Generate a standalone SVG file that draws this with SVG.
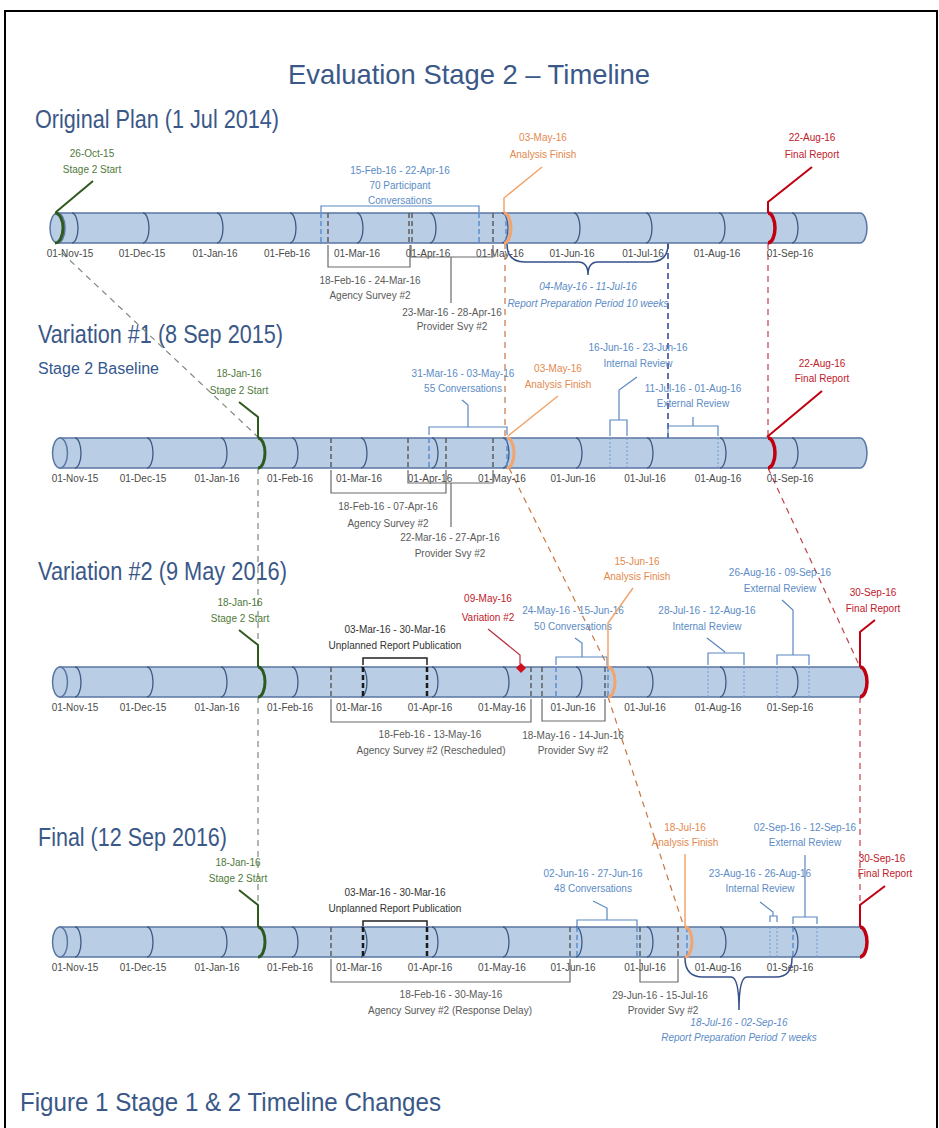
<svg xmlns="http://www.w3.org/2000/svg" width="939" height="1128" viewBox="0 0 939 1128">
<style>
  .t{font-family:"Liberation Sans",Arial,sans-serif;font-size:10px;text-anchor:middle}
  .h{font-family:"Liberation Sans Narrow","Liberation Sans",Arial,sans-serif;fill:#3a5888}
  .lbl{fill:#4a4a4a}
  .grey{fill:#5a5a5a}
  .blue{fill:#5b8bc6}
  .green{fill:#4f7a3a}
  .orange{fill:#e3894d}
  .red{fill:#c0202a}
  .blk{fill:#333}
  .ital{font-style:italic;fill:#5b8bc6}
  .bar{fill:#b9cde5;stroke:#5a76a2;stroke-width:1.5}
  .arc{fill:none;stroke:#3f5a85;stroke-width:1.3}
  .gd{stroke:#5e5e5e;stroke-width:1.5;stroke-dasharray:5 3;fill:none}
  .bd{stroke:#5b8fd0;stroke-width:1.5;stroke-dasharray:5 3;fill:none}
  .bt{stroke:#6f9bd0;stroke-width:1;stroke-dasharray:2 2;fill:none}
  .kd{stroke:#1a1a1a;stroke-width:2.5;stroke-dasharray:5 3;fill:none}
  .nd{stroke:#2a3f9e;stroke-width:1.5;stroke-dasharray:6 4;fill:none}
  .gb{stroke:#6a6a6a;stroke-width:1.2;fill:none}
  .bb{stroke:#5a87c0;stroke-width:1.2;fill:none}
  .kb{stroke:#222;stroke-width:1.5;fill:none}
  .brace{stroke:#34508a;stroke-width:1.5;fill:none}
  .gm{stroke:#2f5a1f;stroke-width:3;fill:none}
  .gl{stroke:#2f5a1f;stroke-width:2;fill:none}
  .om{stroke:#f2a46c;stroke-width:3;fill:none}
  .ol{stroke:#f2a46c;stroke-width:1.5;fill:none}
  .rm{stroke:#c00010;stroke-width:3.5;fill:none}
  .rl{stroke:#c00010;stroke-width:2;fill:none}
  .cg{stroke:#7d8a78;stroke-width:1.2;stroke-dasharray:6 5;fill:none}
  .co{stroke:#c9763e;stroke-width:1.2;stroke-dasharray:6 5;fill:none}
  .cr{stroke:#c0404a;stroke-width:1.2;stroke-dasharray:6 5;fill:none}
</style>

<rect width="939" height="1128" fill="#fff"/>
<rect x="5" y="11" width="932" height="1130" fill="none" stroke="#000" stroke-width="2"/>

<text class="h" x="288" y="84" font-size="28" textLength="362" lengthAdjust="spacingAndGlyphs" fill="#2c4a7e">Evaluation Stage 2 – Timeline</text>
<text class="h" x="35" y="128" font-size="25" textLength="244" lengthAdjust="spacingAndGlyphs">Original Plan (1 Jul 2014)</text>
<text class="h" x="38" y="343" font-size="26" textLength="245" lengthAdjust="spacingAndGlyphs">Variation #1 (8 Sep 2015)</text>
<text x="38" y="374" font-family="'Liberation Sans',Arial,sans-serif" font-size="16" fill="#35578f">Stage 2 Baseline</text>
<text class="h" x="38" y="580" font-size="26" textLength="249" lengthAdjust="spacingAndGlyphs">Variation #2 (9 May 2016)</text>
<text class="h" x="38" y="846" font-size="26" textLength="189" lengthAdjust="spacingAndGlyphs">Final (12 Sep 2016)</text>

<!-- connectors between rows -->
<g id="connectors">
  <path class="cg" d="M62,253 L258,437"/>
  <path class="cg" d="M258,468 V667 M258,697 V927"/>
  <path class="co" d="M505,243 V438"/>
  <path class="co" d="M509,468 L608,667 M608,697 L684,927"/>
  <path class="cr" d="M768,243 V438"/>
  <path class="cr" d="M768,468 L860,667 M860,697 V927"/>
  <path class="nd" d="M668,213 V468"/>
</g>

<!-- ===== Original Plan ===== -->
<g id="row1">
  <g id="row1-bar">
    <path class="bar" d="M57.5,213 H860 a7,15 0 0 1 0,30 H57.5 Z"/>
    <ellipse class="bar" cx="57.5" cy="228" rx="7.5" ry="15"/>
    <path class="arc" d="M72,213a6,15 0 0 1 0,30 M143,213a6,15 0 0 1 0,30 M217,213a6,15 0 0 1 0,30 M290,213a6,15 0 0 1 0,30 M357,213a6,15 0 0 1 0,30 M430,213a6,15 0 0 1 0,30 M502,213a6,15 0 0 1 0,30 M574,213a6,15 0 0 1 0,30 M646,213a6,15 0 0 1 0,30 M719,213a6,15 0 0 1 0,30 M792,213a6,15 0 0 1 0,30"/>
    <g class="t lbl">
      <text x="70" y="257">01-Nov-15</text><text x="142" y="257">01-Dec-15</text><text x="215" y="257">01-Jan-16</text>
      <text x="287" y="257">01-Feb-16</text><text x="357" y="257">01-Mar-16</text><text x="428" y="257">01-Apr-16</text>
      <text x="500" y="257">01-May-16</text><text x="572" y="257">01-Jun-16</text><text x="643" y="257">01-Jul-16</text>
      <text x="717" y="257">01-Aug-16</text><text x="790" y="257">01-Sep-16</text>
    </g>
  </g>
  <g id="row1-start">
    <path class="gl" d="M93,181 L56,212"/>
    <path class="gm" d="M55,213 a8,15 0 0 1 0,30"/>
    <text class="t green" x="92" y="157">26-Oct-15</text>
    <text class="t green" x="92" y="173">Stage 2 Start</text>
  </g>
  <g id="row1-conversations">
    <path class="bd" d="M321,213 V243 M479,213 V243"/>
    <path class="bb" d="M321,212 V206 H479 V212"/>
    <text class="t blue" x="400" y="174">15-Feb-16 - 22-Apr-16</text>
    <text class="t blue" x="400" y="189">70 Participant</text>
    <text class="t blue" x="400" y="204">Conversations</text>
  </g>
  <g id="row1-agency">
    <path class="gd" d="M328,213 V243 M409,213 V243"/>
    <path class="gb" d="M328,245 V267 H410 V245"/>
    <text class="t grey" x="370" y="284">18-Feb-16 - 24-Mar-16</text>
    <text class="t grey" x="370" y="299">Agency Survey #2</text>
  </g>
  <g id="row1-provider">
    <path class="gd" d="M412,213 V243 M493,213 V243"/>
    <path class="gb" d="M411,245 V257 H493 V245 M451,257 V303"/>
    <text class="t grey" x="452" y="316">23-Mar-16 - 28-Apr-16</text>
    <text class="t grey" x="452" y="330">Provider Svy #2</text>
  </g>
  <g id="row1-analysis">
    <path class="bd" d="M506,213 V243"/>
    <path class="ol" d="M542,167 L504,198 V213"/>
    <path class="om" d="M504,213 a7,15 0 0 1 0,30"/>
    <text class="t orange" x="543" y="141">03-May-16</text>
    <text class="t orange" x="543" y="158">Analysis Finish</text>
  </g>
  <g id="row1-report-prep">
    <path class="brace" d="M507,244 Q507,262 525,262 H578 Q588,262 588,275 Q588,262 598,262 H650 Q668,262 668,244"/>
    <text class="t ital" x="588" y="290">04-May-16 - 11-Jul-16</text>
    <text class="t ital" x="588" y="307">Report Preparation Period 10 weeks</text>
  </g>
  <g id="row1-final">
    <path class="rl" d="M812,167 L768,202 V213"/>
    <path class="rm" d="M768,213 a7,15 0 0 1 0,30"/>
    <text class="t red" x="812" y="141">22-Aug-16</text>
    <text class="t red" x="812" y="158">Final Report</text>
  </g>
</g>

<!-- ===== Variation #1 ===== -->
<g id="row2">
  <g id="row2-bar">
    <path class="bar" d="M60,438 H860 a7,15 0 0 1 0,30 H60 Z"/>
    <ellipse class="bar" cx="60" cy="453" rx="7.5" ry="15"/>
    <path class="arc" d="M75,438a6,15 0 0 1 0,30 M147,438a6,15 0 0 1 0,30 M221,438a6,15 0 0 1 0,30 M292,438a6,15 0 0 1 0,30 M361,438a6,15 0 0 1 0,30 M432,438a6,15 0 0 1 0,30 M503,438a6,15 0 0 1 0,30 M576,438a6,15 0 0 1 0,30 M647,438a6,15 0 0 1 0,30 M720,438a6,15 0 0 1 0,30 M792,438a6,15 0 0 1 0,30"/>
    <g class="t lbl">
      <text x="75" y="482">01-Nov-15</text><text x="143" y="482">01-Dec-15</text><text x="217" y="482">01-Jan-16</text>
      <text x="290" y="482">01-Feb-16</text><text x="359" y="482">01-Mar-16</text><text x="430" y="482">01-Apr-16</text>
      <text x="502" y="482">01-May-16</text><text x="573" y="482">01-Jun-16</text><text x="645" y="482">01-Jul-16</text>
      <text x="718" y="482">01-Aug-16</text><text x="790" y="482">01-Sep-16</text>
    </g>
  </g>
  <g id="row2-start">
    <path class="gl" d="M239,402 L258,417 V438"/>
    <path class="gm" d="M258,438 a7,15 0 0 1 0,30"/>
    <text class="t green" x="239" y="377">18-Jan-16</text>
    <text class="t green" x="239" y="394">Stage 2 Start</text>
  </g>
  <g id="row2-agency">
    <path class="gd" d="M331,438 V468 M446,438 V468"/>
    <path class="gb" d="M331,470 V493 H446 V470"/>
    <text class="t grey" x="388" y="510">18-Feb-16 - 07-Apr-16</text>
    <text class="t grey" x="388" y="527">Agency Survey #2</text>
  </g>
  <g id="row2-provider">
    <path class="gd" d="M408,438 V468 M493,438 V468"/>
    <path class="gb" d="M408,470 V483 H493 V470 M451,483 V527"/>
    <text class="t grey" x="450" y="541">22-Mar-16 - 27-Apr-16</text>
    <text class="t grey" x="450" y="557">Provider Svy #2</text>
  </g>
  <g id="row2-conversations">
    <path class="bd" d="M429,438 V468 M507,438 V468"/>
    <path class="bb" d="M462,400 L468,405 V427 M429,435 V427 H507 V435"/>
    <text class="t blue" x="463" y="377">31-Mar-16 - 03-May-16</text>
    <text class="t blue" x="463" y="392">55 Conversations</text>
  </g>
  <g id="row2-analysis">
    <path class="ol" d="M558,396 L508,436"/>
    <path class="om" d="M507,438 a7,15 0 0 1 0,30"/>
    <text class="t orange" x="558" y="372">03-May-16</text>
    <text class="t orange" x="558" y="388">Analysis Finish</text>
  </g>
  <g id="row2-internal">
    <path class="bt" d="M610,438 V468 M627,438 V468"/>
    <path class="bb" d="M637,377 L619,390 V420 M610,436 V420 H627 V436"/>
    <text class="t blue" x="638" y="351">16-Jun-16 - 23-Jun-16</text>
    <text class="t blue" x="638" y="367">Internal Review</text>
  </g>
  <g id="row2-external">
    <path class="bt" d="M718,438 V468"/>
    <path class="bb" d="M693,417 V426 M668,436 V426 H718 V436"/>
    <text class="t blue" x="693" y="392">11-Jul-16 - 01-Aug-16</text>
    <text class="t blue" x="693" y="407">External Review</text>
  </g>
  <g id="row2-final">
    <path class="rl" d="M822,391 L767,437"/>
    <path class="rm" d="M768,438 a7,15 0 0 1 0,30"/>
    <text class="t red" x="822" y="367">22-Aug-16</text>
    <text class="t red" x="822" y="382">Final Report</text>
  </g>
</g>

<!-- ===== Variation #2 ===== -->
<g id="row3">
  <g id="row3-bar">
    <path class="bar" d="M60,667 H860 a7,15 0 0 1 0,30 H60 Z"/>
    <ellipse class="bar" cx="60" cy="682" rx="7.5" ry="15"/>
    <path class="arc" d="M75,667a6,15 0 0 1 0,30 M147,667a6,15 0 0 1 0,30 M221,667a6,15 0 0 1 0,30 M292,667a6,15 0 0 1 0,30 M361,667a6,15 0 0 1 0,30 M432,667a6,15 0 0 1 0,30 M503,667a6,15 0 0 1 0,30 M576,667a6,15 0 0 1 0,30 M647,667a6,15 0 0 1 0,30 M720,667a6,15 0 0 1 0,30 M792,667a6,15 0 0 1 0,30"/>
    <g class="t lbl">
      <text x="75" y="711">01-Nov-15</text><text x="143" y="711">01-Dec-15</text><text x="217" y="711">01-Jan-16</text>
      <text x="290" y="711">01-Feb-16</text><text x="359" y="711">01-Mar-16</text><text x="430" y="711">01-Apr-16</text>
      <text x="502" y="711">01-May-16</text><text x="573" y="711">01-Jun-16</text><text x="645" y="711">01-Jul-16</text>
      <text x="718" y="711">01-Aug-16</text><text x="790" y="711">01-Sep-16</text>
    </g>
  </g>
  <g id="row3-start">
    <path class="gl" d="M239,630 L258,645 V667"/>
    <path class="gm" d="M258,667 a7,15 0 0 1 0,30"/>
    <text class="t green" x="240" y="606">18-Jan-16</text>
    <text class="t green" x="240" y="622">Stage 2 Start</text>
  </g>
  <g id="row3-unplanned">
    <path class="kd" d="M363,667 V697 M427,667 V697"/>
    <path class="kb" d="M363,665 V658 H427 V665"/>
    <text class="t blk" x="395" y="633">03-Mar-16 - 30-Mar-16</text>
    <text class="t blk" x="395" y="649">Unplanned Report Publication</text>
  </g>
  <g id="row3-agency">
    <path class="gd" d="M331,667 V697 M531,667 V697"/>
    <path class="gb" d="M331,699 V722 H531 V699"/>
    <text class="t grey" x="430" y="738">18-Feb-16 - 13-May-16</text>
    <text class="t grey" x="431" y="754">Agency Survey #2 (Rescheduled)</text>
  </g>
  <g id="row3-variation">
    <path stroke="#b83040" stroke-width="1.2" fill="none" d="M488,629 L520,655 V664"/>
    <path fill="#d0101c" d="M521,663 L526,668 L521,673 L516,668 Z"/>
    <text class="t red" x="488" y="602" font-size="11">09-May-16</text>
    <text class="t red" x="488" y="621" font-size="11">Variation #2</text>
  </g>
  <g id="row3-provider">
    <path class="gd" d="M542,667 V697 M605,667 V697"/>
    <path class="gb" d="M542,699 V721 H605 V699"/>
    <text class="t grey" x="573" y="739">18-May-16 - 14-Jun-16</text>
    <text class="t grey" x="573" y="754">Provider Svy #2</text>
  </g>
  <g id="row3-conversations">
    <path class="bd" d="M556,667 V697 M608,667 V697"/>
    <path class="bb" d="M575,638 L582,643 V657 M556,665 V657 H607 V665"/>
    <text class="t blue" x="573" y="614">24-May-16 - 15-Jun-16</text>
    <text class="t blue" x="573" y="630">50 Conversations</text>
  </g>
  <g id="row3-analysis">
    <path class="ol" d="M633,588 L608,623 V667"/>
    <path class="om" d="M608,667 a7,15 0 0 1 0,30"/>
    <text class="t orange" x="637" y="565">15-Jun-16</text>
    <text class="t orange" x="637" y="580">Analysis Finish</text>
  </g>
  <g id="row3-internal">
    <path class="bt" d="M708,667 V697 M744,667 V697"/>
    <path class="bb" d="M707,638 L725,652 M708,665 V653 H744 V665"/>
    <text class="t blue" x="707" y="614">28-Jul-16 - 12-Aug-16</text>
    <text class="t blue" x="707" y="630">Internal Review</text>
  </g>
  <g id="row3-external">
    <path class="bt" d="M777,667 V697 M809,667 V697"/>
    <path class="bb" d="M782,600 L793,610 V655 M777,665 V655 H809 V665"/>
    <text class="t blue" x="780" y="576">26-Aug-16 - 09-Sep-16</text>
    <text class="t blue" x="780" y="592">External Review</text>
  </g>
  <g id="row3-final">
    <path class="rl" d="M875,620 L860,632 V667"/>
    <path class="rm" d="M860,667 a7,15 0 0 1 0,30"/>
    <text class="t red" x="873" y="596">30-Sep-16</text>
    <text class="t red" x="873" y="612">Final Report</text>
  </g>
</g>

<!-- ===== Final ===== -->
<g id="row4">
  <g id="row4-bar">
    <path class="bar" d="M60,927 H860 a7,15 0 0 1 0,30 H60 Z"/>
    <ellipse class="bar" cx="60" cy="942" rx="7.5" ry="15"/>
    <path class="arc" d="M75,927a6,15 0 0 1 0,30 M147,927a6,15 0 0 1 0,30 M221,927a6,15 0 0 1 0,30 M292,927a6,15 0 0 1 0,30 M361,927a6,15 0 0 1 0,30 M432,927a6,15 0 0 1 0,30 M503,927a6,15 0 0 1 0,30 M576,927a6,15 0 0 1 0,30 M647,927a6,15 0 0 1 0,30 M720,927a6,15 0 0 1 0,30 M792,927a6,15 0 0 1 0,30"/>
    <g class="t lbl">
      <text x="75" y="971">01-Nov-15</text><text x="143" y="971">01-Dec-15</text><text x="217" y="971">01-Jan-16</text>
      <text x="290" y="971">01-Feb-16</text><text x="359" y="971">01-Mar-16</text><text x="430" y="971">01-Apr-16</text>
      <text x="502" y="971">01-May-16</text><text x="573" y="971">01-Jun-16</text><text x="645" y="971">01-Jul-16</text>
      <text x="718" y="971">01-Aug-16</text><text x="790" y="971">01-Sep-16</text>
    </g>
  </g>
  <g id="row4-start">
    <path class="gl" d="M239,890 L258,905 V927"/>
    <path class="gm" d="M258,927 a7,15 0 0 1 0,30"/>
    <text class="t green" x="238" y="866">18-Jan-16</text>
    <text class="t green" x="238" y="882">Stage 2 Start</text>
  </g>
  <g id="row4-unplanned">
    <path class="kd" d="M363,927 V957 M427,927 V957"/>
    <path class="kb" d="M363,926 V921 H427 V926"/>
    <text class="t blk" x="395" y="896">03-Mar-16 - 30-Mar-16</text>
    <text class="t blk" x="395" y="912">Unplanned Report Publication</text>
  </g>
  <g id="row4-agency">
    <path class="gd" d="M331,927 V957 M570,927 V957"/>
    <path class="gb" d="M331,959 V982 H570 V959"/>
    <text class="t grey" x="451" y="998">18-Feb-16 - 30-May-16</text>
    <text class="t grey" x="450" y="1014">Agency Survey #2 (Response Delay)</text>
  </g>
  <g id="row4-conversations">
    <path class="bd" d="M577,927 V957 M637,927 V957"/>
    <path class="bb" d="M593,901 L607,908 V920 M577,926 V920 H637 V926"/>
    <text class="t blue" x="593" y="877">02-Jun-16 - 27-Jun-16</text>
    <text class="t blue" x="593" y="892">48 Conversations</text>
  </g>
  <g id="row4-provider">
    <path class="gd" d="M640,927 V957 M678,927 V957"/>
    <path class="gb" d="M640,959 V982 H678 V959"/>
    <text class="t grey" x="660" y="999">29-Jun-16 - 15-Jul-16</text>
    <text class="t grey" x="663" y="1014">Provider Svy #2</text>
  </g>
  <g id="row4-analysis">
    <path class="bd" d="M687,927 V957" stroke="#3a5fb0"/>
    <path class="ol" d="M685,854 V927"/>
    <path class="om" d="M685,927 a7,15 0 0 1 0,30"/>
    <text class="t orange" x="685" y="831">18-Jul-16</text>
    <text class="t orange" x="685" y="846">Analysis Finish</text>
  </g>
  <g id="row4-report-prep">
    <path class="brace" d="M685,958 Q685,977 703,977 H731 Q739,977 739,1010 Q739,977 747,977 H776 Q792,977 792,958"/>
    <text class="t ital" x="739" y="1026">18-Jul-16 - 02-Sep-16</text>
    <text class="t ital" x="739" y="1041">Report Preparation Period 7 weeks</text>
  </g>
  <g id="row4-internal">
    <path class="bt" d="M770,927 V957 M777,927 V957"/>
    <path class="bb" d="M760,902 L773,912 V916 M770,922 V916 H777 V922"/>
    <text class="t blue" x="760" y="877">23-Aug-16 - 26-Aug-16</text>
    <text class="t blue" x="760" y="892">Internal Review</text>
  </g>
  <g id="row4-external">
    <path class="bd" d="M793,927 V957" stroke="#34508a"/>
    <path class="bt" d="M817,927 V957"/>
    <path class="bb" d="M805,855 V917 M793,924 V917 H817 V924"/>
    <text class="t blue" x="805" y="831">02-Sep-16 - 12-Sep-16</text>
    <text class="t blue" x="805" y="846">External Review</text>
  </g>
  <g id="row4-final">
    <path class="rl" d="M885,886 L860,905 V927"/>
    <path class="rm" d="M860,927 a7,15 0 0 1 0,30"/>
    <text class="t red" x="882" y="862">30-Sep-16</text>
    <text class="t red" x="885" y="877">Final Report</text>
  </g>
</g>

<text class="h" x="20" y="1111" font-size="26" textLength="421" lengthAdjust="spacingAndGlyphs" fill="#3d8da6">Figure 1 Stage 1 &amp; 2 Timeline Changes</text>
</svg>
